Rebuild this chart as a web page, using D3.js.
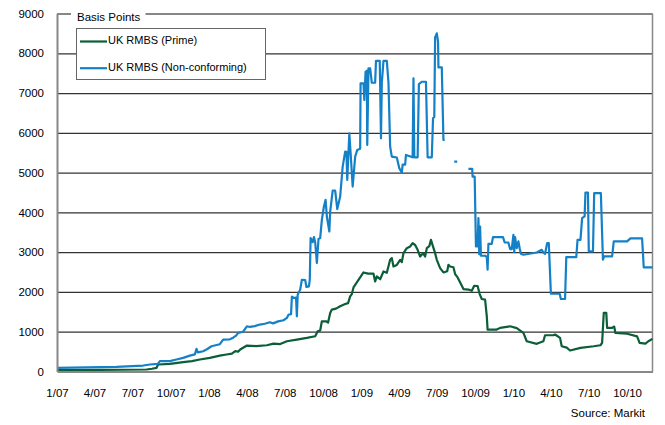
<!DOCTYPE html>
<html>
<head>
<meta charset="utf-8">
<script src="https://cdn.jsdelivr.net/npm/d3@7"></script>
<style>
  html, body { margin: 0; padding: 0; background: #fff; }
  svg { display: block; font-family: "Liberation Sans", Arial, sans-serif; }
</style>
</head>
<body>
<svg id="chart" width="665" height="425"></svg>
<script>
// ---------- DATA ----------
const seriesNames = ["UK RMBS (Prime)", "UK RMBS (Non-conforming)"];

const primeDates = [
  "2007-01-01","2007-04-14","2007-08-04","2007-08-17","2007-08-28","2007-09-01","2007-09-29","2007-10-31",
  "2007-11-21","2007-12-10","2008-01-03","2008-01-27","2008-02-12","2008-02-25","2008-03-04","2008-03-11",
  "2008-03-16","2008-04-01","2008-04-23","2008-05-19","2008-06-04","2008-06-20","2008-07-06","2008-07-30",
  "2008-08-23","2008-09-12","2008-09-18","2008-09-24","2008-09-28","2008-10-08","2008-10-13","2008-10-18",
  "2008-10-22","2008-11-01","2008-11-11","2008-11-23","2008-11-30","2008-12-05","2008-12-09","2008-12-13",
  "2008-12-21","2008-12-29","2009-01-06","2009-01-17","2009-01-30","2009-02-03","2009-02-07","2009-02-15",
  "2009-02-23","2009-03-03","2009-03-11","2009-03-15","2009-03-19","2009-03-27","2009-04-04","2009-04-08",
  "2009-04-12","2009-04-20","2009-04-28","2009-05-04","2009-05-10","2009-05-16","2009-05-22","2009-05-29",
  "2009-06-03","2009-06-07","2009-06-13","2009-06-17","2009-06-22","2009-06-27","2009-07-01","2009-07-09",
  "2009-07-17","2009-07-26","2009-07-29","2009-08-02","2009-08-10","2009-08-14","2009-08-20","2009-08-28",
  "2009-09-03","2009-09-15","2009-09-23","2009-09-29","2009-10-07","2009-10-12","2009-10-17","2009-10-25",
  "2009-10-29","2009-10-31","2009-11-22","2009-11-30","2009-12-24","2010-01-09","2010-01-25","2010-02-02",
  "2010-02-26","2010-03-06","2010-03-14","2010-03-18","2010-04-07","2010-04-11","2010-04-23","2010-04-27",
  "2010-05-09","2010-05-17","2010-06-11","2010-07-13","2010-07-29","2010-08-02","2010-08-06","2010-08-12",
  "2010-08-14","2010-08-26","2010-08-31","2010-09-03","2010-10-01","2010-10-25","2010-10-31","2010-11-14",
  "2010-11-21","2010-12-01"
];
const primeValues = [
  33,40,50,70,92,176,190,234,
  260,301,343,400,427,450,510,500,
  552,652,640,660,702,690,760,803,
  845,886,1011,1030,1262,1262,1230,1472,
  1556,1580,1640,1696,1720,1890,1947,2114,
  2240,2365,2490,2460,2460,2265,2390,2320,
  2515,2480,2808,2850,2640,2680,2808,2750,
  2975,3100,3142,3226,3180,3060,2890,2975,
  2890,3100,3150,3310,3140,2975,2808,2600,
  2490,2520,2683,2640,2620,2449,2365,2198,
  2072,2060,2030,2156,2150,1947,1822,1807,
  1400,1054,1054,1097,1137,1090,970,760,
  695,730,760,911,911,930,845,635,
  600,527,595,635,660,720,1473,1473,
  1097,1097,1130,970,950,884,720,700,
  760,820
];

const ncDates = [
  "2007-01-01","2007-05-24","2007-07-27","2007-08-12","2007-08-31","2007-09-05","2007-09-29","2007-10-15",
  "2007-10-31","2007-11-16","2007-11-28","2007-12-02","2007-12-05","2007-12-18","2007-12-27","2008-01-07",
  "2008-01-27","2008-02-04","2008-02-20","2008-02-28","2008-03-06","2008-03-11","2008-03-23","2008-04-01",
  "2008-04-08","2008-04-20","2008-05-02","2008-05-14","2008-05-26","2008-06-03","2008-06-15","2008-06-28",
  "2008-07-06","2008-07-10","2008-07-16","2008-07-18","2008-07-23","2008-07-28","2008-07-30","2008-08-01",
  "2008-08-07","2008-08-11","2008-08-19","2008-08-22","2008-08-28","2008-08-30","2008-09-01","2008-09-06",
  "2008-09-09","2008-09-12","2008-09-16","2008-09-20","2008-09-24","2008-09-28","2008-10-03","2008-10-07",
  "2008-10-10","2008-10-16","2008-10-18","2008-10-24","2008-10-30","2008-11-04","2008-11-11","2008-11-17",
  "2008-11-23","2008-11-26","2008-11-28","2008-12-03","2008-12-06","2008-12-11","2008-12-17","2008-12-22",
  "2008-12-29","2008-12-30","2009-01-06","2009-01-08","2009-01-11","2009-01-14","2009-01-15","2009-01-18",
  "2009-01-22","2009-01-26","2009-02-03","2009-02-05","2009-02-14","2009-02-17","2009-02-19","2009-02-23",
  "2009-03-03","2009-03-07","2009-03-11","2009-03-15","2009-03-27","2009-04-02","2009-04-08","2009-04-10",
  "2009-04-16","2009-04-18","2009-05-04","2009-05-06","2009-05-08","2009-05-16","2009-05-19","2009-05-26",
  "2009-06-05","2009-06-09","2009-06-19","2009-06-22","2009-06-25","2009-06-27","2009-07-01","2009-07-04",
  "2009-07-05","2009-07-13","2009-07-17","2009-07-20","2009-07-28","2009-08-12","2009-08-19","2009-08-30",
  "2009-09-15","2009-09-24","2009-09-25","2009-09-30","2009-10-03","2009-10-07","2009-10-09","2009-10-11",
  "2009-10-13","2009-10-15","2009-10-25","2009-10-29","2009-10-31","2009-11-02","2009-11-10","2009-11-13",
  "2009-12-07","2009-12-11","2009-12-20","2009-12-24","2009-12-28","2010-01-01","2010-01-03","2010-01-05",
  "2010-01-09","2010-01-13","2010-01-16","2010-01-19","2010-01-25","2010-02-26","2010-03-10","2010-03-14",
  "2010-03-18","2010-03-23","2010-03-27","2010-04-01","2010-04-22","2010-04-25","2010-05-05","2010-05-08",
  "2010-06-01","2010-06-04","2010-06-11","2010-06-15","2010-06-21","2010-06-23","2010-06-29","2010-07-01",
  "2010-07-11","2010-07-14","2010-07-30","2010-08-04","2010-08-07","2010-08-26","2010-08-30","2010-10-01",
  "2010-10-09","2010-11-06","2010-11-10","2010-12-01"
];
const ncValues = [
  90,118,150,176,190,259,262,301,
  343,400,430,570,480,510,560,635,
  686,803,810,850,900,970,1000,1137,
  1120,1140,1180,1200,1237,1210,1260,1288,
  1346,1430,1440,1880,1848,1860,1388,1930,
  2058,2307,2300,2124,2140,2307,3354,3250,
  3380,3250,2727,3330,3354,3813,4147,4315,
  3896,3520,4022,4550,4550,4082,4400,5150,
  5527,5520,4817,5990,5500,4650,5400,5570,
  5600,7243,7243,6824,7535,7560,5695,7620,
  7620,7259,7259,7810,7810,5863,7259,7810,
  7810,7259,5652,5402,5380,5110,5000,5200,
  5200,5444,5385,7369,5385,5385,7226,7284,
  7284,5385,5385,6365,6400,8400,8500,8300,
  7645,7645,5820,5820,null,5276,5276,null,
  5093,5093,4900,4900,3143,3143,3855,2950,
  3645,2910,2910,2880,2559,3210,3210,3379,
  3379,3243,3243,3078,3078,3437,3000,3380,
  3100,3270,3100,2960,2935,2992,3060,2990,
  2960,3228,3228,1955,1955,1823,1823,2877,
  2877,3311,3311,3855,3900,4498,4498,3018,
  3018,4483,4483,2810,2893,2893,3270,3270,
  3345,3345,2616,2616
];

const yTicks = [0,1000,2000,3000,4000,5000,6000,7000,8000,9000];
const xTickDates = ["2007-01-01","2007-04-01","2007-07-01","2007-10-01","2008-01-01","2008-04-01","2008-07-01","2008-10-01",
                    "2009-01-01","2009-04-01","2009-07-01","2009-10-01","2010-01-01","2010-04-01","2010-07-01","2010-10-01"];
const xTickLabels = ["1/07","4/07","7/07","10/07","1/08","4/08","7/08","10/08","1/09","4/09","7/09","10/09","1/10","4/10","7/10","10/10"];
const axisTitle = "Basis Points";
const sourceText = "Source: Markit";

// ---------- CHART ----------
const parse = d3.utcParse("%Y-%m-%d");
const colors = ["#0b5e38", "#1380c8"];
const FONT = "'Liberation Sans', Arial, sans-serif";
const svg = d3.select("#chart");
const L = 57, R = 652.5, T = 13.5, B = 371.5;

const x = d3.scaleUtc().domain([parse("2007-01-01"), parse("2010-12-01")]).range([L, R]);
const y = d3.scaleLinear().domain([0, 9000]).range([B, T]);

// gridlines via axis
const grid = svg.append("g").attr("transform", `translate(${L},0)`)
  .call(d3.axisLeft(y).tickValues(yTicks.filter(v => v > 0)).tickSize(-(R - L)).tickFormat(""));
grid.select(".domain").remove();
grid.selectAll(".tick line").attr("stroke", d => d === 9000 ? "#111" : "#333").attr("stroke-width", 1.2);

// right border
svg.append("path").attr("d", `M${R},${T}V${B}`).attr("stroke", "#888").attr("stroke-width", 1.5).attr("fill", "none");

// series
const primeData = primeDates.map((d, i) => ({ date: parse(d), v: primeValues[i] }));
const ncData = ncDates.map((d, i) => ({ date: parse(d), v: ncValues[i] }));
const line = d3.line().defined(d => d.v != null).x(d => x(d.date)).y(d => y(d.v));

svg.append("path").datum(primeData).attr("d", line)
  .attr("fill", "none").attr("stroke", colors[0]).attr("stroke-width", 2.2).attr("stroke-linejoin", "round");
svg.append("path").datum(ncData).attr("d", line)
  .attr("fill", "none").attr("stroke", colors[1]).attr("stroke-width", 2.2).attr("stroke-linejoin", "round");

// y axis
const yAxis = d3.axisLeft(y).tickValues(yTicks).tickSize(0).tickPadding(13).tickFormat(d3.format("d"));
const gy = svg.append("g").attr("transform", `translate(${L},0)`).call(yAxis);
gy.select(".domain").attr("stroke", "#888").attr("stroke-width", 2);
gy.selectAll("text").attr("font-size", 11.5).attr("fill", "#000").attr("font-family", FONT);

// x axis
const xAxis = d3.axisBottom(x).tickValues(xTickDates.map(parse)).tickSize(0).tickPadding(17)
  .tickFormat((d, i) => xTickLabels[i]);
const gx = svg.append("g").attr("transform", `translate(0,${B})`).call(xAxis);
gx.select(".domain").attr("stroke", "#888").attr("stroke-width", 2);
gx.selectAll("text").attr("font-size", 11.5).attr("fill", "#000").attr("font-family", FONT);

// axis title with white background
const tg = svg.append("g");
const tbg = tg.append("rect").attr("fill", "#fff");
const title = tg.append("text").attr("x", 77).attr("y", 18).attr("font-size", 11.5)
  .attr("font-family", FONT).attr("dominant-baseline", "middle").text(axisTitle);
const tb = title.node().getBBox();
tbg.attr("x", tb.x - 6).attr("y", tb.y).attr("width", tb.width + 11).attr("height", tb.height);

// legend
const lg = svg.append("g");
lg.append("rect").attr("x", 76.5).attr("y", 28.5).attr("width", 189).attr("height", 51)
  .attr("fill", "#fff").attr("stroke", "#666").attr("stroke-width", 1);
seriesNames.forEach((name, i) => {
  const yy = 41.5 + i * 26.7;
  lg.append("path").attr("d", `M80,${yy}H107`).attr("stroke", colors[i]).attr("stroke-width", 2.2);
  lg.append("text").attr("x", 108).attr("y", yy).attr("dominant-baseline", "middle")
    .attr("font-family", FONT).attr("font-size", 11).text(name);
});

// source
svg.append("text").attr("x", 645).attr("y", 414).attr("text-anchor", "end")
  .attr("font-family", FONT).attr("dominant-baseline", "middle").attr("font-size", 11.5).text(sourceText);
</script>
</body>
</html>
